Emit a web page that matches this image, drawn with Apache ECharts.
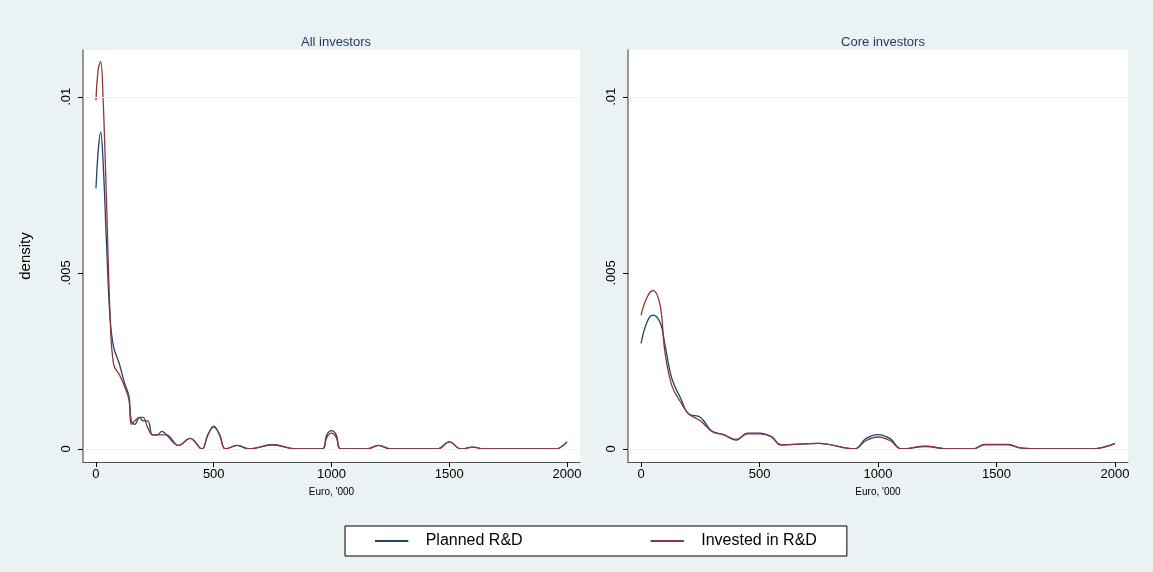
<!DOCTYPE html>
<html><head><meta charset="utf-8">
<script src="https://cdn.jsdelivr.net/npm/echarts@6/dist/echarts.min.js"></script>
<style>html,body{margin:0;background:#eaf2f3}#main{width:1153px;height:572px}</style>
</head><body><div id="main"></div>
<script>
// x (Euro '000) and density values
var allX = [0, 10, 20, 30, 45, 60, 75, 100, 120, 140, 150, 165, 185, 200, 220, 240, 260, 280, 300, 350, 400, 450, 475, 500, 525, 550, 600, 650, 750, 850, 960, 980, 1000, 1020, 1040, 1150, 1200, 1250, 1450, 1500, 1550, 1600, 1650, 1950, 2000];
var allPlanned = [0.0074, 0.0085, 0.0090, 0.0082, 0.0058, 0.0037, 0.0029, 0.0024, 0.0019, 0.0015, 0.0008, 0.0007, 0.0009, 0.0008, 0.0008, 0.0004, 0.0004, 0.0005, 0.0004, 0.0001, 0.0003, 0.0000, 0.0004, 0.00065, 0.0004, 0.0000, 0.0001, 0.0000, 0.00012, 0.0000, 0.0000, 0.0004, 0.00052, 0.0004, 0.0000, 0.0000, 0.0001, 0.0000, 0.0000, 0.0002, 0.0000, 0.00005, 0.0000, 0.0000, 0.0002];
var allInvested = [0.0099, 0.0108, 0.0110, 0.0100, 0.0070, 0.0038, 0.0024, 0.0021, 0.0018, 0.0014, 0.0007, 0.0008, 0.0009, 0.0009, 0.0006, 0.0004, 0.0004, 0.0004, 0.0004, 0.0001, 0.0003, 0.0000, 0.0004, 0.00062, 0.0004, 0.0000, 0.0001, 0.0000, 0.00012, 0.0000, 0.0000, 0.00033, 0.00045, 0.00033, 0.0000, 0.0000, 0.0001, 0.0000, 0.0000, 0.0002, 0.0000, 0.00005, 0.0000, 0.0000, 0.0002];
var coreX = [0, 25, 50, 80, 100, 130, 170, 200, 250, 300, 350, 400, 450, 500, 550, 590, 750, 900, 950, 1000, 1050, 1100, 1200, 1300, 1400, 1450, 1550, 1600, 1700, 1900, 2000];
var corePlanned = [0.0030, 0.0036, 0.0038, 0.0036, 0.0030, 0.0020, 0.0014, 0.0010, 0.0009, 0.0005, 0.0004, 0.00025, 0.00045, 0.00045, 0.00035, 0.00012, 0.00016, 0.0000, 0.0003, 0.00041, 0.0003, 0.0000, 0.00007, 0.0000, 0.0000, 0.00013, 0.00013, 0.00003, 0.0000, 0.0000, 0.00015];
var coreInvested = [0.0038, 0.0043, 0.0045, 0.0041, 0.0028, 0.0018, 0.0013, 0.0010, 0.0008, 0.0005, 0.0004, 0.00027, 0.00043, 0.00043, 0.00035, 0.00012, 0.00016, 0.0000, 0.00024, 0.00034, 0.00024, 0.0000, 0.00008, 0.0000, 0.0000, 0.00012, 0.00012, 0.00003, 0.0000, 0.0000, 0.00015];
var xTicks = [0, 500, 1000, 1500, 2000];
var yTicks = [0, 0.005, 0.01];

function pairs(xs, ys) { return xs.map(function (x, i) { return [x, ys[i]]; }); }
var blue = '#1a476f', red = '#90353b';
var font = 'Arial, "Liberation Sans", sans-serif';

function xAxis(idx) {
    return {
        gridIndex: idx, type: 'value', min: -55, max: 2055,
        name: "Euro, '000", nameLocation: 'middle', nameGap: 25,
        nameTextStyle: { fontSize: 10, color: '#000', fontFamily: font },
        axisLine: { onZero: false, lineStyle: { color: '#555' } },
        axisTick: { show: true, length: 5, lineStyle: { color: '#000' }, customValues: xTicks },
        splitLine: { show: false },
        axisLabel: { fontSize: 13, color: '#000', fontFamily: font, margin: 6,
            customValues: xTicks, formatter: function (v) { return String(v); } }
    };
}
function yAxis(idx) {
    return {
        gridIndex: idx, type: 'value', min: -0.00037, max: 0.01133,
        name: idx === 0 ? 'density' : '', nameLocation: 'middle', nameGap: 50,
        nameTextStyle: { fontSize: 15, color: '#000', fontFamily: font },
        axisLine: { show: true, onZero: false, lineStyle: { color: '#777', width: 1.5 } },
        axisTick: { show: true, length: 5, lineStyle: { color: '#000' }, customValues: yTicks },
        splitLine: { show: false },
        axisLabel: { rotate: 90, fontSize: 13, color: '#000', fontFamily: font, margin: 10,
            customValues: yTicks,
            formatter: function (v) { return v === 0 ? '0' : String(v).replace(/^0/, ''); } }
    };
}
function gridLines(idx) {
    return { type: 'line', xAxisIndex: idx, yAxisIndex: idx, data: [], silent: true,
        markLine: { symbol: 'none', silent: true, label: { show: false },
            lineStyle: { color: '#eaf2f3', width: 1, type: 'solid' },
            data: yTicks.map(function (v) { return { yAxis: v }; }) } };
}
function line(name, idx, xs, ys, color) {
    return { name: name, type: 'line', xAxisIndex: idx, yAxisIndex: idx, data: pairs(xs, ys),
        smooth: 0.4, showSymbol: false, lineStyle: { color: color, width: 1.3 }, itemStyle: { color: color } };
}

var chart = echarts.init(document.getElementById('main'));
chart.setOption({
    backgroundColor: '#eaf2f3',
    animation: false,
    title: [
        { text: 'All investors', left: 331, top: 31, textAlign: 'center', textStyle: { fontSize: 13, fontWeight: 'normal', color: '#1a3a5f', fontFamily: font } },
        { text: 'Core investors', left: 878, top: 31, textAlign: 'center', textStyle: { fontSize: 13, fontWeight: 'normal', color: '#1a3a5f', fontFamily: font } }
    ],
    legend: {
        data: ['Planned R&D', 'Invested in R&D'], left: 345, top: 526,
        itemWidth: 46, itemGap: 128, padding: [7, 30],
        backgroundColor: '#fff', borderColor: '#000', borderWidth: 1,
        icon: 'path://M0,0H1V0.06H0Z', itemHeight: 2,
        textStyle: { fontSize: 16, color: '#000', fontFamily: font, padding: [0, 0, 0, 6] }
    },
    grid: [
        { left: 83, width: 497, top: 50, height: 412, backgroundColor: '#fff', show: true, borderWidth: 0 },
        { left: 628, width: 500, top: 50, height: 412, backgroundColor: '#fff', show: true, borderWidth: 0 }
    ],
    xAxis: [xAxis(0), xAxis(1)],
    yAxis: [yAxis(0), yAxis(1)],
    series: [
        gridLines(0), gridLines(1),
        line('Planned R&D', 0, allX, allPlanned, blue),
        line('Invested in R&D', 0, allX, allInvested, red),
        line('Planned R&D', 1, coreX, corePlanned, blue),
        line('Invested in R&D', 1, coreX, coreInvested, red)
    ]
});
</script></body></html>
